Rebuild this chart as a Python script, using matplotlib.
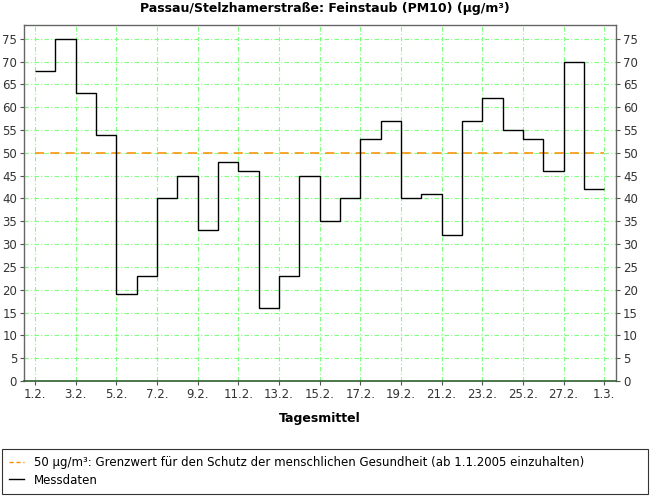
import matplotlib

matplotlib.use("Agg")

import matplotlib.pyplot as plt
from matplotlib.lines import Line2D

# daily means for February, one value per day
days = list(range(1, 30))
pm10 = [68, 75, 63, 54, 19, 23, 40, 45, 33, 48, 46, 16, 23, 45,
        35, 40, 53, 57, 40, 41, 32, 57, 62, 55, 53, 46, 70, 42]
limit_value = 50
tick_days = list(range(1, 30, 2))
tick_labels = [f"{d}.2." for d in range(1, 28, 2)] + ["1.3."]
y_ticks = list(range(0, 80, 5))

GRID_GREEN = "#7fff7f"

fig = plt.figure(figsize=(6.5, 5), dpi=100)
ax = fig.add_axes([0.037, 0.238, 0.911, 0.712])

ax.set_xlim(0.46, 29.59)
ax.set_ylim(0, 78)

ax.grid(True, color=GRID_GREEN, linestyle=(0, (4, 2, 1, 2)), linewidth=0.8)
ax.set_axisbelow(True)

ax.hlines(limit_value, days[0], days[-1], color="#ff8c00", linestyle=(0, (6, 4)),
          linewidth=1.1, zorder=3)
ax.stairs(pm10, days, baseline=None, color="black", linewidth=1.0, zorder=4)

ax.set_xticks(tick_days)
ax.set_xticklabels(tick_labels)
ax.set_yticks(y_ticks)
ax.tick_params(axis="both", labelsize=8.5, length=3, color="#555555", labelcolor="#333333")
ax.tick_params(axis="y", right=True, labelright=True, pad=2)
ax.tick_params(axis="x", pad=2)

for side in ["left", "right", "top"]:
    ax.spines[side].set_color("#666666")
    ax.spines[side].set_linewidth(1.0)
ax.spines["bottom"].set_color("#2f5f2f")
ax.spines["bottom"].set_linewidth(1.2)

ax.set_xlabel("Tagesmittel", fontsize=9, fontweight="bold", labelpad=8)
fig.text(0.5, 0.983, "Passau/Stelzhamerstraße: Feinstaub (PM10) (µg/m³)",
         ha="center", va="center", fontsize=9, fontweight="bold")

handles = [
    Line2D([], [], color="#ff8c00", linestyle=(0, (3, 2)), linewidth=1.0),
    Line2D([], [], color="black", linewidth=1.0),
]
labels = [
    "50 µg/m³: Grenzwert für den Schutz der menschlichen Gesundheit (ab 1.1.2005 einzuhalten)",
    "Messdaten",
]
leg = fig.legend(handles, labels, loc="center left", bbox_to_anchor=(0.003, 0.008, 0.994, 0.098),
                 mode="expand", fontsize=8.5, frameon=True, fancybox=False, handlelength=1.3,
                 handletextpad=0.8, labelspacing=0.35, borderaxespad=0, borderpad=0.6)
leg.get_frame().set_edgecolor("black")
leg.get_frame().set_linewidth(0.8)

fig.savefig("out.png", dpi=100)
